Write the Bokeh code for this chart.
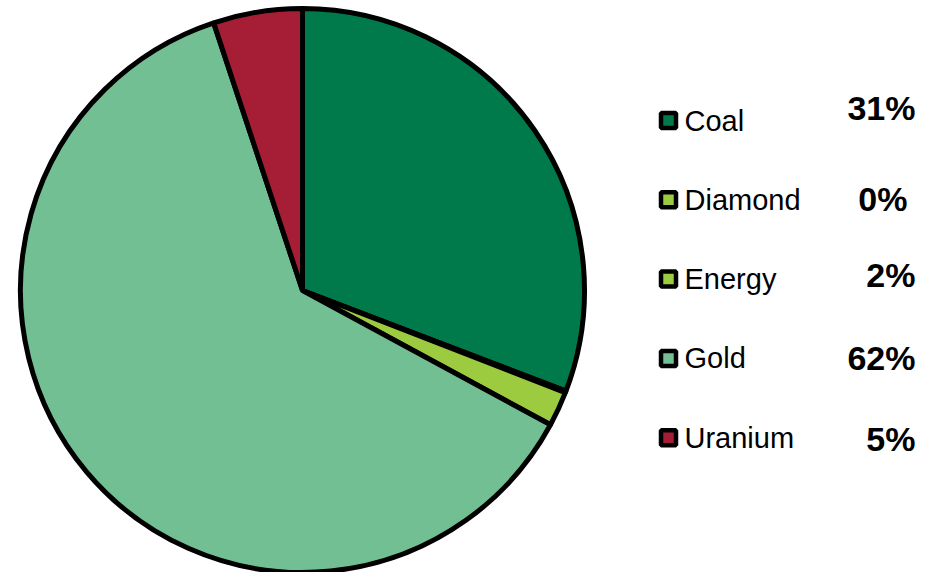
import numpy as np
from bokeh.plotting import figure
from bokeh.models import Range1d, ColumnDataSource
from bokeh.core.properties import value
from bokeh.embed import file_html
from bokeh.resources import INLINE

categories = ["Coal", "Diamond", "Energy", "Gold", "Uranium"]
shares = [30.8, 0.1, 2.0, 62.0, 5.1]
colors = ["#007A4B", "#9DCB3F", "#9DCB3F", "#73BF94", "#A51E36"]
pct_labels = [f"{round(s):d}%" for s in shares]

W, H = 942, 572
p = figure(width=W, height=H, output_backend="svg", toolbar_location=None,
           x_range=Range1d(0, W), y_range=Range1d(0, H), min_border=0,
           outline_line_color=None)
p.axis.visible = False
p.grid.visible = False
p.background_fill_color = "white"
p.border_fill_color = "white"

# pie (clockwise from 12 o'clock)
frac = np.array(shares) / sum(shares)
cum = np.concatenate([[0], np.cumsum(frac)])
start = np.pi / 2 - cum[1:] * 2 * np.pi
end = np.pi / 2 - cum[:-1] * 2 * np.pi
cx, cy, r = 302, H - 290, 282
src = ColumnDataSource(dict(start=start, end=end, color=colors))
p.wedge(x=cx, y=cy, radius=r, start_angle="start", end_angle="end",
        fill_color="color", line_color="black", line_width=5, source=src)

# legend
row_y = [H - (120 + i * 79.3) for i in range(len(categories))]
pct_dy = [13, 1, 4, 0, -1]
pct_dx = [0, -8, 0, 0, 0]
p.scatter(x=[668] * len(categories), y=row_y, marker="square", size=15,
          fill_color=colors, line_color="black", line_width=4.5)
p.text(x=[684] * len(categories), y=row_y, text=categories,
       text_font=value("Liberation Sans"), text_font_size="29px",
       text_baseline="middle", text_align="left", text_color="black")
p.text(x=[915 + d for d in pct_dx], y=[y + d for y, d in zip(row_y, pct_dy)],
       text=pct_labels, text_font=value("Liberation Sans"), text_font_size="34px",
       text_font_style="bold", text_baseline="middle", text_align="right",
       text_color="black")

open("out.html", "w").write(file_html(p, INLINE))
